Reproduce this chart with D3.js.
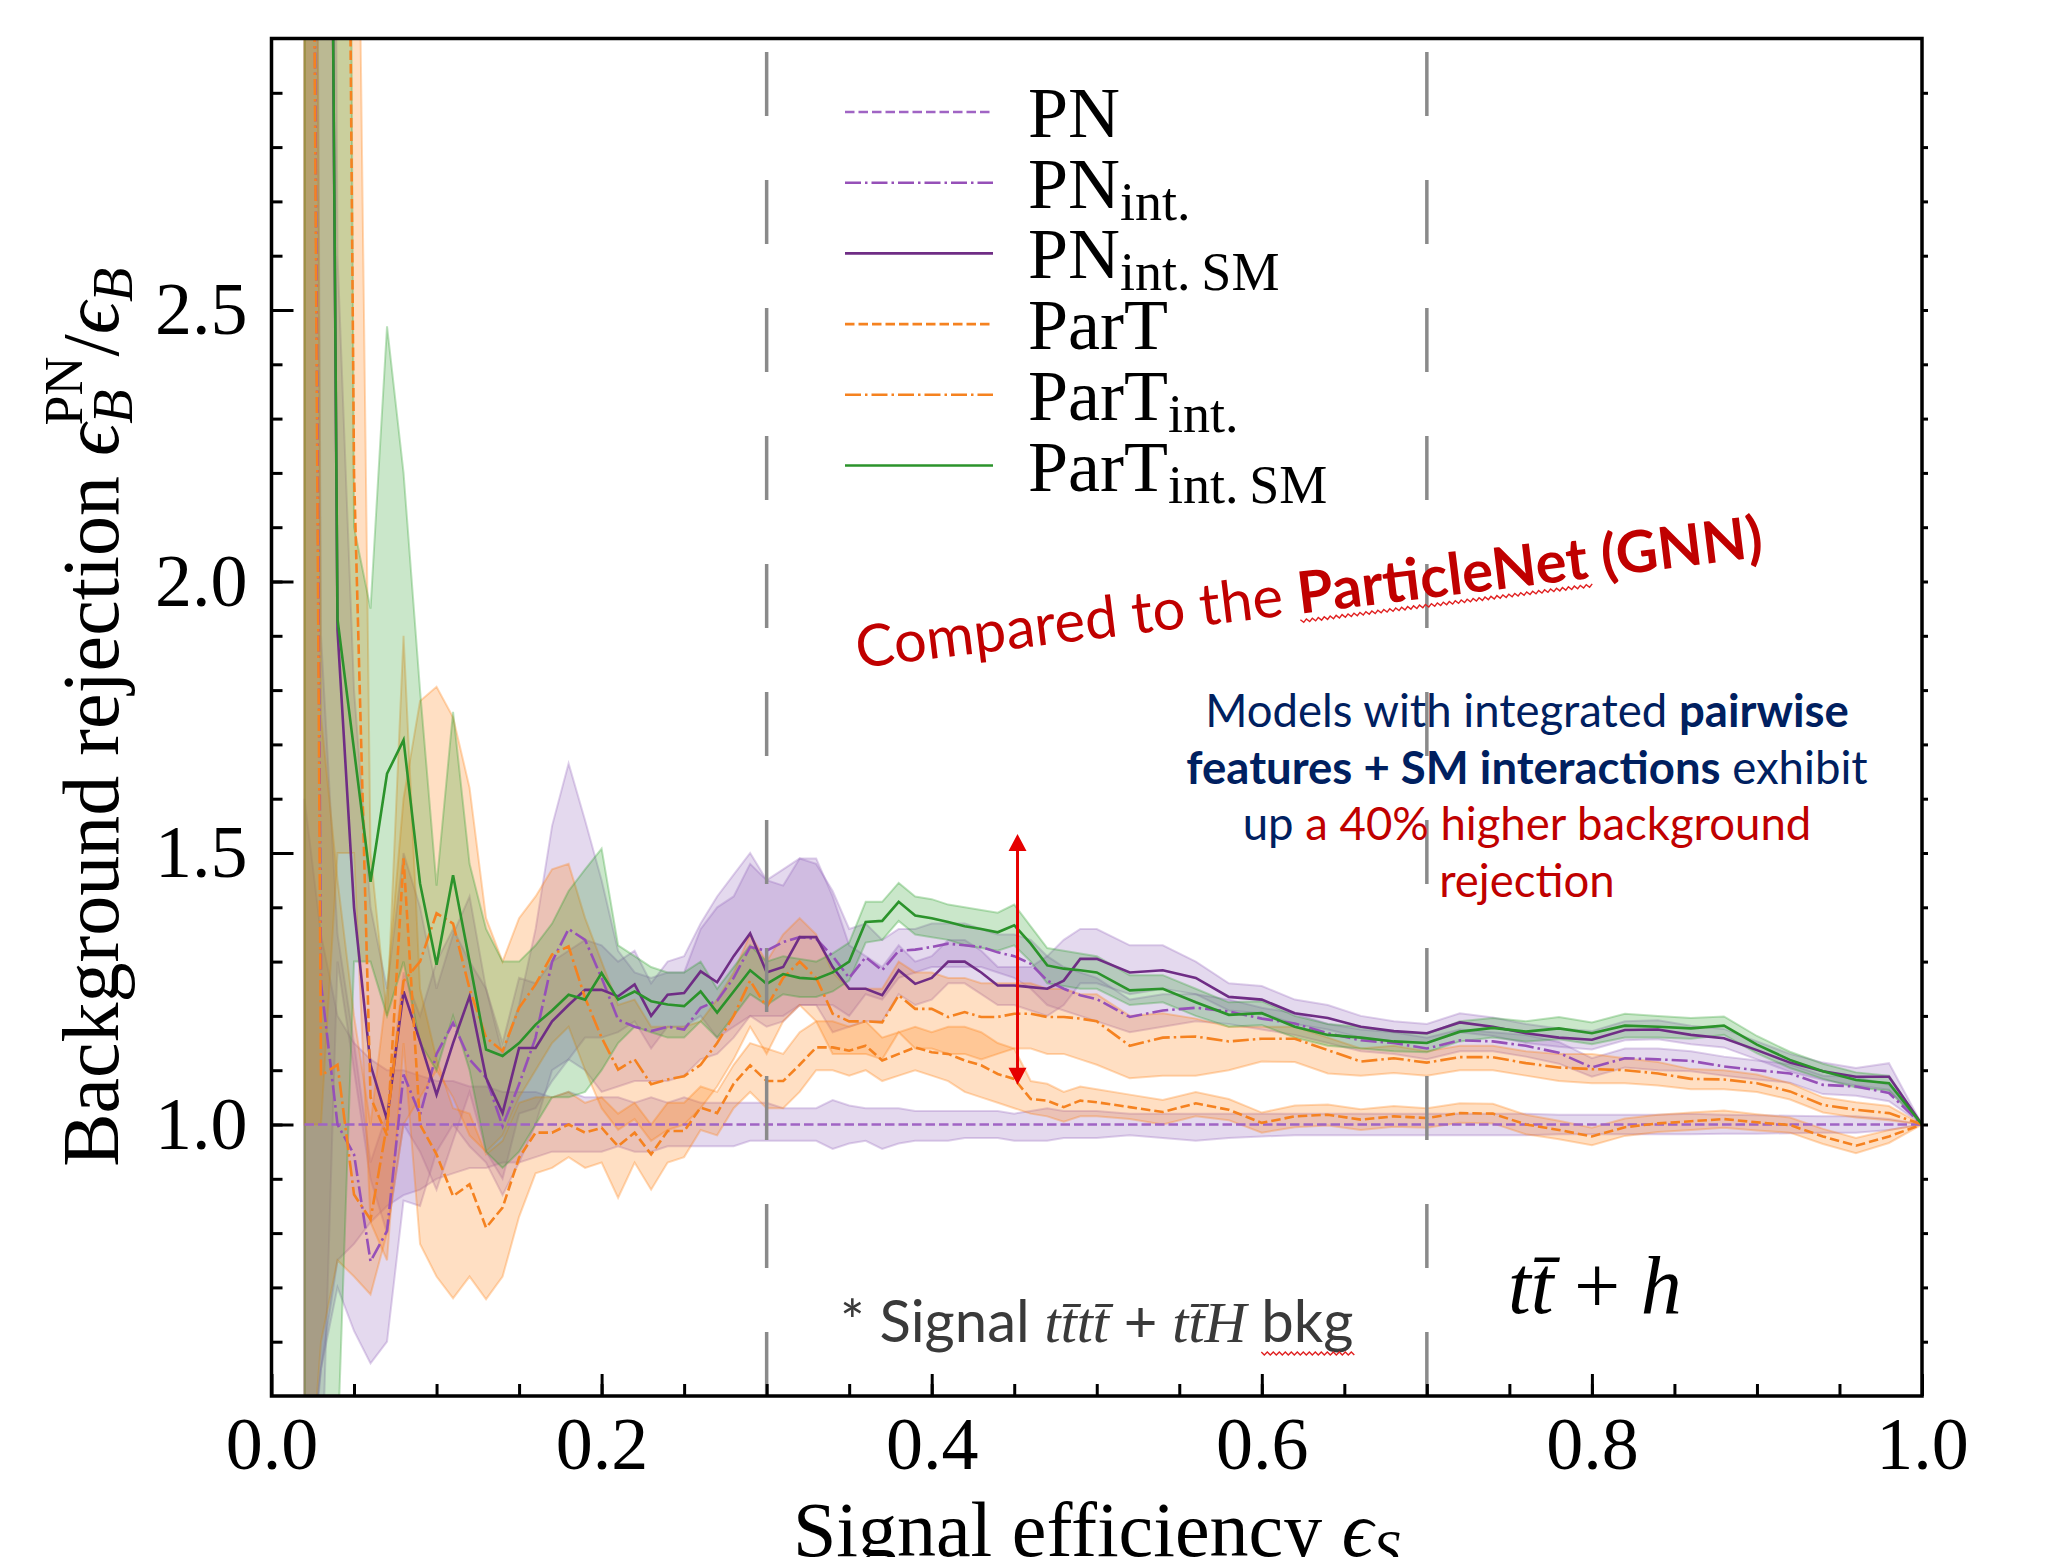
<!DOCTYPE html>
<html>
<head>
<meta charset="utf-8">
<script src="https://cdn.jsdelivr.net/npm/d3@7"></script>
<style>
  body { margin: 0; background: #fff; }
</style>
</head>
<body>
<div id="chart"></div>
<script>
// signal efficiency grid (0.01 steps up to 0.5, then 0.02)
const effS = [0.02,0.03,0.04,0.05,0.06,0.07,0.08,0.09,0.10,
  0.11,0.12,0.13,0.14,0.15,0.16,0.17,0.18,0.19,0.20,
  0.21,0.22,0.23,0.24,0.25,0.26,0.27,0.28,0.29,0.30,
  0.31,0.32,0.33,0.34,0.35,0.36,0.37,0.38,0.39,0.40,
  0.41,0.42,0.43,0.44,0.45,0.46,0.47,0.48,0.49,0.50,
  0.52,0.54,0.56,0.58,0.60,0.62,0.64,0.66,0.68,0.70,
  0.72,0.74,0.76,0.78,0.80,0.82,0.84,0.86,0.88,0.90,
  0.92,0.94,0.96,0.98,1.00];

// PN (reference, ratio to itself)
const pn = [1,1,1,1,1,1,1,1,1,
  1,1,1,1,1,1,1,1,1,1,
  1,1,1,1,1,1,1,1,1,1,
  1,1,1,1,1,1,1,1,1,1,
  1,1,1,1,1,1,1,1,1,1,
  1,1,1,1,1,1,1,1,1,1,
  1,1,1,1,1,1,1,1,1,1,
  1,1,1,1,1];
const pnLo = [0.30,0.55,0.75,0.78,0.82,0.85,0.87,0.88,0.90,
  0.91,0.92,0.92,0.93,0.93,0.94,0.95,0.95,0.95,0.95,
  0.96,0.95,0.95,0.96,0.96,0.96,0.96,0.96,0.97,0.97,
  0.97,0.97,0.97,0.955,0.965,0.97,0.955,0.965,0.97,0.97,
  0.97,0.975,0.975,0.975,0.97,0.97,0.97,0.975,0.975,0.975,
  0.98,0.975,0.97,0.975,0.978,0.98,0.98,0.98,0.98,0.98,
  0.98,0.98,0.98,0.982,0.982,0.982,0.982,0.982,0.983,0.983,
  0.984,0.985,0.985,0.99,1.0];
const pnHi = [1.60,1.35,1.20,1.15,1.12,1.10,1.10,1.09,1.08,
  1.08,1.07,1.07,1.06,1.06,1.06,1.05,1.06,1.05,1.05,
  1.05,1.04,1.05,1.04,1.05,1.04,1.04,1.04,1.04,1.04,
  1.03,1.03,1.03,1.045,1.035,1.03,1.03,1.03,1.025,1.025,
  1.025,1.025,1.025,1.025,1.02,1.025,1.03,1.025,1.025,1.025,
  1.02,1.02,1.02,1.02,1.02,1.02,1.02,1.02,1.02,1.02,
  1.02,1.02,1.02,1.018,1.018,1.018,1.018,1.02,1.018,1.017,
  1.016,1.015,1.015,1.01,1.0];

// PN int.
const pnInt = [6.0,1.26,1.0,0.945,0.748,0.804,1.092,1.018,1.13,
  1.187,1.12,1.086,0.997,1.074,1.16,1.30,1.36,1.34,1.27,
  1.193,1.18,1.172,1.18,1.175,1.215,1.228,1.27,1.327,1.32,
  1.336,1.345,1.342,1.31,1.27,1.308,1.284,1.32,1.322,1.327,
  1.333,1.33,1.327,1.317,1.31,1.296,1.265,1.25,1.238,1.231,
  1.198,1.21,1.215,1.208,1.195,1.186,1.168,1.155,1.15,1.14,
  1.155,1.153,1.145,1.132,1.105,1.122,1.12,1.117,1.107,1.10,
  1.094,1.073,1.07,1.058,1.0];
const pnIntLo = [0.20,0.55,0.70,0.62,0.56,0.60,0.86,0.85,0.95,
  1.00,0.96,0.93,0.87,0.93,1.00,1.10,1.12,1.10,1.06,
  1.07,1.08,1.08,1.08,1.09,1.12,1.13,1.16,1.20,1.20,
  1.20,1.22,1.22,1.22,1.20,1.24,1.23,1.27,1.28,1.29,
  1.29,1.29,1.29,1.28,1.27,1.25,1.22,1.21,1.20,1.19,
  1.17,1.18,1.19,1.185,1.175,1.165,1.15,1.135,1.13,1.12,
  1.135,1.135,1.125,1.112,1.088,1.105,1.10,1.098,1.09,1.083,
  1.077,1.056,1.053,1.043,1.0];
const pnIntHi = [8.0,1.90,1.35,1.15,0.93,1.02,1.28,1.20,1.30,
  1.36,1.30,1.25,1.13,1.22,1.36,1.55,1.665,1.56,1.45,
  1.32,1.28,1.27,1.28,1.28,1.36,1.40,1.42,1.48,1.45,
  1.47,1.49,1.48,1.43,1.36,1.37,1.34,1.36,1.36,1.37,
  1.37,1.37,1.36,1.35,1.35,1.34,1.31,1.29,1.28,1.27,
  1.23,1.24,1.24,1.23,1.215,1.205,1.185,1.175,1.17,1.16,
  1.175,1.17,1.165,1.152,1.122,1.14,1.14,1.135,1.125,1.118,
  1.111,1.09,1.087,1.073,1.0];

// PN int. SM
const pnIntSM = [6.0,6.0,1.91,1.40,1.11,1.009,1.245,1.153,1.055,
  1.15,1.236,1.086,1.021,1.141,1.141,1.19,1.22,1.248,1.248,
  1.236,1.258,1.20,1.239,1.242,1.282,1.262,1.31,1.352,1.28,
  1.29,1.345,1.345,1.29,1.25,1.25,1.238,1.284,1.259,1.27,
  1.30,1.30,1.28,1.256,1.256,1.253,1.25,1.265,1.305,1.305,
  1.28,1.284,1.27,1.235,1.23,1.205,1.196,1.18,1.172,1.168,
  1.188,1.18,1.168,1.16,1.156,1.174,1.175,1.165,1.159,1.137,
  1.114,1.098,1.088,1.088,1.0];
const pnIntSMLo = [0.20,0.30,1.30,1.10,0.90,0.80,1.00,0.95,0.88,
  0.97,1.06,0.95,0.90,1.02,1.03,1.08,1.12,1.16,1.16,
  1.17,1.19,1.14,1.18,1.18,1.20,1.16,1.18,1.20,1.18,
  1.19,1.22,1.22,1.17,1.18,1.19,1.19,1.24,1.22,1.23,
  1.26,1.26,1.24,1.22,1.22,1.21,1.20,1.22,1.26,1.26,
  1.24,1.25,1.24,1.21,1.205,1.185,1.175,1.16,1.153,1.15,
  1.17,1.163,1.15,1.143,1.138,1.155,1.157,1.148,1.142,1.12,
  1.097,1.082,1.072,1.064,1.0];
const pnIntSMHi = [8.0,8.0,2.60,1.80,1.40,1.25,1.50,1.40,1.25,
  1.35,1.42,1.25,1.15,1.27,1.26,1.30,1.32,1.34,1.33,
  1.30,1.32,1.26,1.30,1.31,1.37,1.42,1.46,1.50,1.45,
  1.44,1.49,1.49,1.42,1.33,1.31,1.29,1.33,1.30,1.31,
  1.34,1.34,1.32,1.29,1.29,1.29,1.31,1.34,1.36,1.36,
  1.33,1.33,1.30,1.26,1.255,1.23,1.22,1.20,1.19,1.185,
  1.205,1.197,1.185,1.177,1.172,1.19,1.192,1.182,1.176,1.153,
  1.13,1.114,1.104,1.113,1.0];

// ParT
const parT = [6.0,6.0,6.0,2.2,1.05,0.98,1.49,1.0,0.945,
  0.868,0.89,0.81,0.847,0.939,0.985,0.985,1.0,0.985,0.994,
  0.96,0.985,0.945,0.988,0.988,1.031,1.021,1.075,1.109,1.08,
  1.08,1.11,1.142,1.142,1.136,1.145,1.118,1.13,1.142,1.133,
  1.13,1.118,1.109,1.093,1.084,1.047,1.044,1.032,1.044,1.041,
  1.032,1.023,1.039,1.027,1.003,1.015,1.018,1.009,1.015,1.012,
  1.021,1.02,1.0,0.99,0.978,0.995,1.002,1.006,1.01,1.004,
  0.999,0.978,0.961,0.978,1.0];
const parTLo = [1.0,1.0,1.5,1.5,0.82,0.75,1.15,0.78,0.72,
  0.68,0.72,0.678,0.72,0.83,0.91,0.92,0.94,0.92,0.93,
  0.865,0.93,0.88,0.93,0.94,0.99,0.98,1.03,1.06,1.03,
  1.03,1.06,1.10,1.10,1.09,1.10,1.08,1.09,1.10,1.09,
  1.08,1.06,1.05,1.04,1.03,1.02,1.015,1.005,1.015,1.015,
  1.01,1.0,1.015,1.008,0.985,0.995,0.998,0.99,0.996,0.994,
  1.003,1.002,0.982,0.973,0.962,0.979,0.986,0.99,0.994,0.989,
  0.985,0.964,0.947,0.966,1.0];
const parTHi = [8.0,8.0,8.0,4.0,1.5,1.2,1.9,1.25,1.12,
  1.03,1.02,0.945,0.97,1.04,1.05,1.05,1.06,1.04,1.05,
  1.02,1.04,1.0,1.04,1.04,1.07,1.06,1.11,1.15,1.14,
  1.13,1.17,1.19,1.19,1.18,1.19,1.16,1.17,1.18,1.17,
  1.18,1.18,1.17,1.15,1.14,1.08,1.075,1.06,1.07,1.065,
  1.055,1.045,1.06,1.047,1.022,1.035,1.037,1.028,1.034,1.03,
  1.039,1.038,1.018,1.007,0.994,1.011,1.018,1.022,1.026,1.019,
  1.013,0.992,0.975,0.99,1.0];

// ParT int.
const parTInt = [6.0,1.09,1.11,0.871,0.825,1.0,1.264,1.30,1.389,
  1.37,1.25,1.16,1.135,1.215,1.258,1.313,1.328,1.233,1.16,
  1.101,1.12,1.074,1.083,1.089,1.11,1.15,1.20,1.265,1.216,
  1.27,1.30,1.27,1.204,1.19,1.19,1.188,1.238,1.213,1.213,
  1.198,1.207,1.198,1.198,1.204,1.204,1.198,1.198,1.195,1.19,
  1.145,1.16,1.162,1.153,1.158,1.158,1.137,1.116,1.122,1.114,
  1.124,1.124,1.113,1.105,1.102,1.10,1.094,1.084,1.083,1.076,
  1.061,1.036,1.027,1.021,1.0];
const parTIntLo = [0.2,0.6,0.75,0.72,0.687,0.8,1.0,1.05,1.1,
  1.05,0.98,0.95,0.98,1.05,1.1,1.15,1.18,1.1,1.03,
  0.99,1.01,0.97,0.99,1.0,1.03,1.07,1.12,1.18,1.13,
  1.19,1.22,1.19,1.13,1.13,1.13,1.12,1.17,1.14,1.14,
  1.13,1.13,1.12,1.13,1.14,1.14,1.13,1.13,1.12,1.11,
  1.085,1.09,1.09,1.1,1.116,1.115,1.094,1.09,1.095,1.09,
  1.1,1.1,1.09,1.08,1.076,1.076,1.072,1.065,1.065,1.06,
  1.046,1.022,1.013,1.008,1.0];
const parTIntHi = [8.0,1.75,1.45,1.2,1.0,1.25,1.6,1.78,1.806,
  1.75,1.62,1.38,1.3,1.38,1.42,1.47,1.48,1.38,1.3,
  1.22,1.23,1.18,1.18,1.18,1.19,1.23,1.28,1.35,1.3,
  1.35,1.38,1.35,1.28,1.25,1.25,1.25,1.3,1.28,1.28,
  1.27,1.27,1.26,1.26,1.26,1.26,1.25,1.25,1.24,1.24,
  1.2,1.205,1.195,1.18,1.18,1.18,1.16,1.14,1.145,1.135,
  1.145,1.145,1.135,1.13,1.13,1.122,1.115,1.102,1.1,1.092,
  1.076,1.05,1.041,1.034,1.0];

// ParT int. SM
const parTIntSM = [6.0,6.0,1.93,1.69,1.447,1.646,1.708,1.444,1.294,
  1.459,1.30,1.138,1.126,1.15,1.184,1.21,1.239,1.23,1.279,
  1.23,1.245,1.227,1.221,1.218,1.245,1.206,1.245,1.284,1.259,
  1.277,1.27,1.268,1.28,1.30,1.373,1.375,1.41,1.385,1.38,
  1.373,1.365,1.36,1.354,1.367,1.333,1.293,1.287,1.284,1.28,
  1.247,1.25,1.225,1.202,1.205,1.18,1.165,1.16,1.153,1.15,
  1.171,1.178,1.171,1.177,1.168,1.182,1.18,1.177,1.182,1.147,
  1.119,1.098,1.082,1.076,1.0];
const parTIntSMLo = [0.2,0.2,0.4,1.3,1.3,1.2,1.3,1.15,1.1,
  1.2,1.1,0.95,0.92,0.95,1.0,1.05,1.05,1.06,1.1,
  1.15,1.18,1.17,1.16,1.16,1.19,1.16,1.2,1.24,1.22,
  1.24,1.235,1.235,1.245,1.265,1.335,1.34,1.375,1.35,1.345,
  1.34,1.33,1.325,1.32,1.33,1.3,1.26,1.255,1.25,1.25,
  1.22,1.225,1.2,1.18,1.183,1.16,1.145,1.14,1.135,1.133,
  1.153,1.16,1.153,1.157,1.148,1.16,1.16,1.158,1.165,1.131,
  1.104,1.084,1.068,1.062,1.0];
const parTIntSMHi = [8.0,8.0,8.0,2.1,1.95,2.47,2.2,1.8,1.44,
  1.76,1.48,1.36,1.3,1.3,1.33,1.37,1.43,1.47,1.508,
  1.33,1.31,1.29,1.28,1.28,1.3,1.25,1.29,1.33,1.3,
  1.31,1.305,1.3,1.315,1.335,1.41,1.41,1.445,1.42,1.415,
  1.405,1.4,1.395,1.39,1.405,1.365,1.325,1.32,1.315,1.31,
  1.275,1.275,1.25,1.225,1.227,1.2,1.185,1.18,1.171,1.167,
  1.19,1.196,1.19,1.198,1.188,1.204,1.2,1.196,1.199,1.163,
  1.134,1.112,1.096,1.09,1.0];

const xTicks = [0.0, 0.2, 0.4, 0.6, 0.8, 1.0];
const yTicks = [1.0, 1.5, 2.0, 2.5];
const workingPoints = [0.3, 0.7];

// style of each model
const purple = "#9467bd", orange = "#ff7f0e", green = "#2ca02c";
const models = [
  {name: "PN", sub: "", v: pn, lo: pnLo, hi: pnHi, color: "#a064c4", band: purple, dash: "9.5,4"},
  {name: "PN", sub: "int.", v: pnInt, lo: pnIntLo, hi: pnIntHi, color: "#9650b8", band: purple, dash: "16,4,2.5,4"},
  {name: "PN", sub: "int.\u2009SM", v: pnIntSM, lo: pnIntSMLo, hi: pnIntSMHi, color: "#6f2d85", band: purple, dash: null},
  {name: "ParT", sub: "", v: parT, lo: parTLo, hi: parTHi, color: "#f58220", band: orange, dash: "9.5,4"},
  {name: "ParT", sub: "int.", v: parTInt, lo: parTIntLo, hi: parTIntHi, color: "#f58220", band: orange, dash: "16,4,2.5,4"},
  {name: "ParT", sub: "int.\u2009SM", v: parTIntSM, lo: parTIntSMLo, hi: parTIntSMHi, color: "#2b932b", band: green, dash: null}
];

const W = 2048, H = 1557;
const svg = d3.select("#chart").append("svg")
    .attr("width", W)
    .attr("height", H)
    .style("background", "#fff");

const x = d3.scaleLinear().domain([0, 1]).range([271.5, 1922]);
const y = d3.scaleLinear().domain([0.5, 3.0]).range([1396, 38.5]);

svg.append("clipPath").attr("id", "plotclip")
  .append("rect")
    .attr("x", x(0)).attr("y", y(3.0))
    .attr("width", x(1) - x(0)).attr("height", y(0.5) - y(3.0));

const plot = svg.append("g").attr("clip-path", "url(#plotclip)");

// bands first (like fill_between under the lines)
const area = d3.area()
    .x((d, i) => x(effS[i]))
    .y0(d => y(d[0]))
    .y1(d => y(d[1]));

models.forEach(m => {
  const pts = m.lo.map((l, i) => [l, m.hi[i]]);
  plot.append("path")
      .attr("d", area(pts))
      .attr("fill", m.band)
      .attr("fill-opacity", 0.25)
      .attr("stroke", m.band)
      .attr("stroke-opacity", 0.3)
      .attr("stroke-width", 2);
});

const line = d3.line()
    .x((d, i) => x(effS[i]))
    .y(d => y(d));

models.forEach(m => {
  plot.append("path")
      .attr("d", line(m.v))
      .attr("fill", "none")
      .attr("stroke", m.color)
      .attr("stroke-width", 2.6)
      .attr("stroke-dasharray", m.dash);
});

// working point markers (dashed verticals, drawn bottom-up)
workingPoints.forEach(wp => {
  svg.append("line")
      .attr("x1", x(wp)).attr("x2", x(wp))
      .attr("y1", y(0.5)).attr("y2", y(3.0))
      .attr("stroke", "#8a8a8a")
      .attr("stroke-width", 3.5)
      .attr("stroke-dasharray", "64,64");
});

// axes
const serif = "'Liberation Serif', 'DejaVu Serif', serif";

const gx = svg.append("g").attr("transform", `translate(0,${y(0.5)})`)
    .call(d3.axisBottom(x).tickValues(xTicks).tickFormat(d3.format(".1f"))
      .tickSize(-22).tickPadding(20));
svg.append("g").attr("transform", `translate(0,${y(0.5)})`)
    .call(d3.axisBottom(x).tickValues(d3.range(0.05, 1, 0.05)).tickFormat("").tickSize(-12));

const gy = svg.append("g").attr("transform", `translate(${x(0)},0)`)
    .call(d3.axisLeft(y).tickValues(yTicks).tickFormat(d3.format(".1f"))
      .tickSize(-22).tickPadding(24));
svg.append("g").attr("transform", `translate(${x(0)},0)`)
    .call(d3.axisLeft(y).tickValues(d3.range(0.6, 3.0, 0.1)).tickFormat("").tickSize(-11));

svg.append("g").attr("transform", `translate(${x(1)},0)`)
    .call(d3.axisRight(y).tickValues(d3.range(0.6, 3.0, 0.1)).tickFormat("").tickSize(6));

svg.selectAll(".domain").remove();
svg.selectAll(".tick line").attr("stroke", "#000").attr("stroke-width", 3);
[gx, gy].forEach(g => g.selectAll("text")
    .attr("font-family", serif)
    .attr("font-size", 74)
    .attr("fill", "#000"));

svg.append("rect")
    .attr("x", x(0)).attr("y", y(3.0))
    .attr("width", x(1) - x(0)).attr("height", y(0.5) - y(3.0))
    .attr("fill", "none")
    .attr("stroke", "#000")
    .attr("stroke-width", 3.5);

// axis titles
const ylab = svg.append("text")
    .attr("transform", `translate(118,${(y(0.5) + y(3.0)) / 2}) rotate(-90)`)
    .attr("text-anchor", "middle")
    .attr("font-family", serif)
    .attr("font-size", 80);
ylab.append("tspan").text("Background rejection ");
ylab.append("tspan").attr("font-style", "italic").text("\u03f5");
ylab.append("tspan").attr("font-style", "italic").attr("font-size", 56).attr("dy", 14).text("B");
ylab.append("tspan").attr("font-size", 54).attr("dx", -36).attr("dy", -50).text("PN");
ylab.append("tspan").attr("dy", 36).text("/");
ylab.append("tspan").attr("font-style", "italic").text("\u03f5");
ylab.append("tspan").attr("font-style", "italic").attr("font-size", 56).attr("dy", 14).text("B");

const xlab = svg.append("text")
    .attr("x", (x(0) + x(1)) / 2)
    .attr("y", 1556)
    .attr("text-anchor", "middle")
    .attr("font-family", serif)
    .attr("font-size", 78);
xlab.append("tspan").text("Signal efficiency ");
xlab.append("tspan").attr("font-style", "italic").text("\u03f5");
xlab.append("tspan").attr("font-style", "italic").attr("font-size", 55).attr("dy", 12).text("S");

// legend
const legend = svg.append("g");
models.forEach((m, i) => {
  const ly = 112 + i * 70.7;
  legend.append("line")
      .attr("x1", 845).attr("x2", 993)
      .attr("y1", ly).attr("y2", ly)
      .attr("stroke", m.color)
      .attr("stroke-width", 2.6)
      .attr("stroke-dasharray", m.dash);
  const t = legend.append("text")
      .attr("x", 1028).attr("y", ly + 25)
      .attr("font-family", serif)
      .attr("font-size", 72);
  t.append("tspan").text(m.name);
  if (m.sub) t.append("tspan").attr("font-size", 54).attr("dy", 12).text(m.sub);
});

// annotations
const sans = "Lato, 'Open Sans', sans-serif";
const red = "#c00000", navy = "#002060";

// red spell-check style squiggle under a piece of text
function squiggle(g, x0, x1, yb) {
  let d = `M${x0},${yb}`;
  for (let xx = x0, k = 0; xx < x1; xx += 3, k++) d += ` L${xx + 3},${yb + (k % 2 ? 0 : 3)}`;
  g.append("path").attr("d", d).attr("fill", "none").attr("stroke", "#e02020").attr("stroke-width", 1.4);
}

const compG = svg.append("g").attr("transform", "translate(858,668) rotate(-7)");
const comp = compG.append("text")
    .attr("font-family", sans)
    .attr("font-size", 58)
    .attr("fill", red);
comp.append("tspan").text("Compared to the ");
comp.append("tspan").attr("font-weight", "bold").text("ParticleNet (GNN)");
{
  const n = comp.node();
  const a = n.getSubStringLength(0, 16), b = n.getSubStringLength(16, 11);
  squiggle(compG, a, a + b, 6);
}

const note = [
  [["Models with integrated ", navy, "normal"], ["pairwise", navy, "bold"]],
  [["features + SM interactions", navy, "bold"], [" exhibit", navy, "normal"]],
  [["up ", navy, "normal"], ["a 40% higher background", red, "normal"]],
  [["rejection", red, "normal"]]
];
note.forEach((row, i) => {
  const t = svg.append("text")
      .attr("x", 1527).attr("y", 727 + i * 56.5)
      .attr("text-anchor", "middle")
      .attr("font-family", sans)
      .attr("font-size", 45.5);
  row.forEach(p => t.append("tspan").attr("fill", p[1]).attr("font-weight", p[2]).text(p[0]));
});

// 40% arrow
const arrowX = x(0.452), arrowTop = y(1.535), arrowBot = y(1.073);
svg.append("line")
    .attr("x1", arrowX).attr("x2", arrowX)
    .attr("y1", arrowTop + 12).attr("y2", arrowBot - 12)
    .attr("stroke", "#e60000").attr("stroke-width", 3);
svg.append("path")
    .attr("d", `M${arrowX},${arrowTop} l-9,17 l18,0 Z M${arrowX},${arrowBot} l-9,-17 l18,0 Z`)
    .attr("fill", "#e60000");

const sigG = svg.append("g");
const sig = sigG.append("text")
    .attr("x", 840).attr("y", 1342)
    .attr("font-family", sans)
    .attr("font-size", 58)
    .attr("fill", "#3a3a3a");
sig.append("tspan").text("* Signal ");
sig.append("tspan").attr("font-family", serif).attr("font-style", "italic").text("tt\u0304tt\u0304");
sig.append("tspan").text(" + ");
sig.append("tspan").attr("font-family", serif).attr("font-style", "italic").text("tt\u0304H");
sig.append("tspan").text(" bkg");
{
  const n = sig.node();
  const total = n.getNumberOfChars();
  const a = n.getSubStringLength(0, total - 3), b = n.getSubStringLength(total - 3, 3);
  squiggle(sigG, 840 + a, 840 + a + b, 1352);
}

const proc = svg.append("text")
    .attr("x", 1508).attr("y", 1313)
    .attr("font-family", serif)
    .attr("font-size", 82);
proc.append("tspan").attr("font-style", "italic").text("tt\u0304");
proc.append("tspan").text(" + ");
proc.append("tspan").attr("font-style", "italic").text("h");
</script>
</body>
</html>
